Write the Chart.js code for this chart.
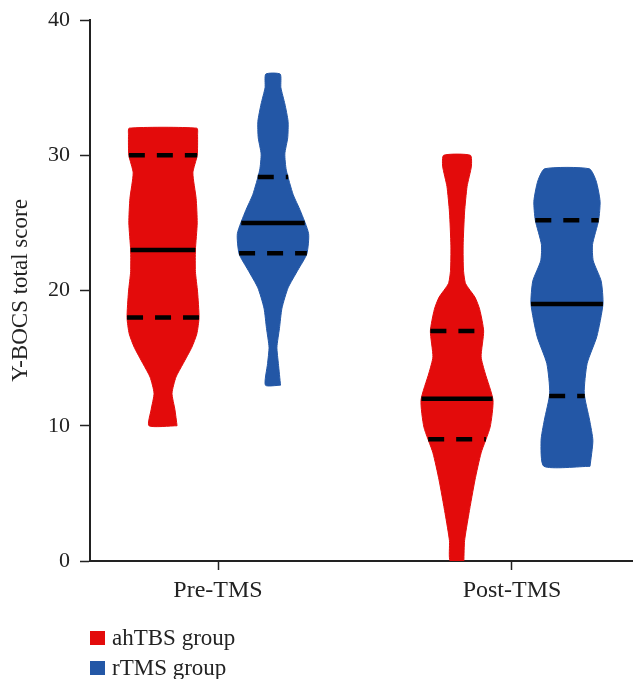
<!DOCTYPE html>
<html>
<head>
<meta charset="utf-8">
<script src="https://cdn.jsdelivr.net/npm/chart.js@4.4.0/dist/chart.umd.min.js"></script>
<style>
  body { margin: 0; background: #fff; }
  #wrap { position: relative; width: 633px; height: 679px; }
  #legend { position: absolute; left: 90px; top: 623px; font: 23px "Liberation Serif", serif; color: #222; }
  .item { display: flex; align-items: center; height: 30px; }
  .box { width: 15px; height: 14px; margin-right: 7px; }
</style>
</head>
<body>
<div id="wrap">
  <canvas id="violin" width="633" height="679"></canvas>
  <div id="legend"></div>
</div>
<script>
const groups = ['Pre-TMS', 'Post-TMS'];
const seriesNames = ['ahTBS group', 'rTMS group'];
const seriesColors = ['#e30b0b', '#2357a6'];

// violin outlines: score levels with relative half-width (1 = widest part)
const preAhtbsScores = [10, 11.2, 12.4, 13.6, 14.6, 15.8, 16.8, 18, 19.9, 21.4, 23, 25, 26.8, 28.7, 30, 31.5, 32];
const preAhtbsWidths = [0.39, 0.33, 0.25, 0.36, 0.56, 0.8, 0.94, 1.0, 0.96, 0.9, 0.9, 0.95, 0.92, 0.83, 0.95, 0.96, 0.94];
const preRtmsScores = [13, 14.6, 15.8, 17.2, 18.7, 20.2, 21.5, 22.7, 24.2, 25.9, 27.1, 28.9, 30.1, 31.3, 32.5, 33.8, 35, 36];
const preRtmsWidths = [0.21, 0.15, 0.11, 0.18, 0.25, 0.42, 0.69, 0.94, 0.99, 0.76, 0.56, 0.37, 0.33, 0.41, 0.42, 0.33, 0.22, 0.2];
const postAhtbsScores = [0, 1.5, 3.5, 6, 8, 9.9, 11.9, 13.9, 15.1, 17, 18.6, 19.5, 20.5, 21.5, 23.3, 25.8, 27.7, 29.2, 30];
const postAhtbsWidths = [0.19, 0.21, 0.33, 0.5, 0.67, 0.92, 1.0, 0.78, 0.67, 0.74, 0.63, 0.5, 0.24, 0.18, 0.17, 0.21, 0.28, 0.4, 0.37];
const postRtmsScores = [7, 8.9, 10.4, 12.4, 14.6, 16.6, 19, 20.7, 22.2, 23.4, 25.2, 26.6, 28.1, 29];
const postRtmsWidths = [0.64, 0.72, 0.63, 0.48, 0.56, 0.83, 1.0, 0.95, 0.73, 0.71, 0.88, 0.92, 0.81, 0.62];

// quartiles: [lower, median, upper]
const preAhtbsQuartiles = [18, 23, 30];
const preRtmsQuartiles = [22.75, 25, 28.4];
const postAhtbsQuartiles = [9, 12, 17];
const postRtmsQuartiles = [12.2, 19, 25.2];

const GROUP_OFFSET = 0.187;   // distance of each violin from its category tick
const MAX_HALF = 0.1224;      // half-width of the widest violin section

const violins = [
  { group: 0, series: 0, scores: preAhtbsScores, widths: preAhtbsWidths, quartiles: preAhtbsQuartiles },
  { group: 0, series: 1, scores: preRtmsScores, widths: preRtmsWidths, quartiles: preRtmsQuartiles },
  { group: 1, series: 0, scores: postAhtbsScores, widths: postAhtbsWidths, quartiles: postAhtbsQuartiles },
  { group: 1, series: 1, scores: postRtmsScores, widths: postRtmsWidths, quartiles: postRtmsQuartiles }
];

function halfWidthAt(v, y) {
  const s = v.scores, w = v.widths;
  for (let i = 1; i < s.length; i++) {
    if (y <= s[i]) {
      const t = (y - s[i - 1]) / (s[i] - s[i - 1]);
      return (w[i - 1] + t * (w[i] - w[i - 1])) * MAX_HALF;
    }
  }
  return w[w.length - 1] * MAX_HALF;
}

const datasets = [];
violins.forEach(v => {
  const cx = v.group + 1 + (v.series === 0 ? -GROUP_OFFSET : GROUP_OFFSET);
  const right = v.scores.map((y, i) => ({ x: cx + v.widths[i] * MAX_HALF, y }));
  const left = v.scores.map((y, i) => ({ x: cx - v.widths[i] * MAX_HALF, y })).reverse();
  const outline = right.concat(left, [right[0]]);
  const color = seriesColors[v.series];
  datasets.push({
    data: outline,
    showLine: true,
    fill: 'shape',
    backgroundColor: color,
    borderColor: color,
    borderWidth: 1,
    pointRadius: 0,
    tension: 0.2,
    order: 2
  });
  v.quartiles.forEach((q, k) => {
    const hw = halfWidthAt(v, q);
    datasets.push({
      data: [{ x: cx - hw, y: q }, { x: cx + hw, y: q }],
      showLine: true,
      fill: false,
      borderColor: '#000',
      borderWidth: 4.5,
      borderDash: k === 1 ? [] : [16, 12],
      pointRadius: 0,
      order: 1
    });
  });
});

Chart.defaults.font.family = '"Liberation Serif", serif';
Chart.defaults.color = '#222';

new Chart(document.getElementById('violin'), {
  type: 'scatter',
  data: { datasets },
  options: {
    responsive: false,
    animation: false,
    layout: { padding: { top: 20, right: 0, bottom: 58, left: 0 } },
    plugins: {
      legend: { display: false },
      tooltip: { enabled: false }
    },
    scales: {
      x: {
        type: 'linear',
        min: 0.5646,
        max: 2.4116,
        afterBuildTicks: s => { s.ticks = groups.map((g, i) => ({ value: i + 1 })); },
        afterFit: s => { s.height = 60; s.paddingLeft = 0; s.paddingRight = 0; },
        ticks: {
          font: { size: 24 },
          color: '#222',
          padding: 6,
          callback: v => groups[v - 1] || ''
        },
        grid: { drawOnChartArea: false, tickLength: 9, tickColor: '#222', tickWidth: 1.5 },
        border: { color: '#222', width: 2 }
      },
      y: {
        min: 0,
        max: 40,
        afterFit: s => { s.width = 90; s.paddingTop = 0; s.paddingBottom = 0; },
        ticks: { stepSize: 10, font: { size: 22 }, color: '#222', padding: 10 },
        grid: { drawOnChartArea: false, tickLength: 10, tickColor: '#222', tickWidth: 1.5 },
        border: { color: '#222', width: 2 },
        title: {
          display: true,
          text: 'Y-BOCS total score',
          font: { size: 23 },
          color: '#222',
          padding: { top: 7, bottom: 0 }
        }
      }
    }
  }
});

// legend rows under the axis
const legend = document.getElementById('legend');
seriesNames.forEach((name, i) => {
  const row = document.createElement('div');
  row.className = 'item';
  const box = document.createElement('span');
  box.className = 'box';
  box.style.background = seriesColors[i];
  const label = document.createElement('span');
  label.textContent = name;
  row.append(box, label);
  legend.appendChild(row);
});
</script>
</body>
</html>
